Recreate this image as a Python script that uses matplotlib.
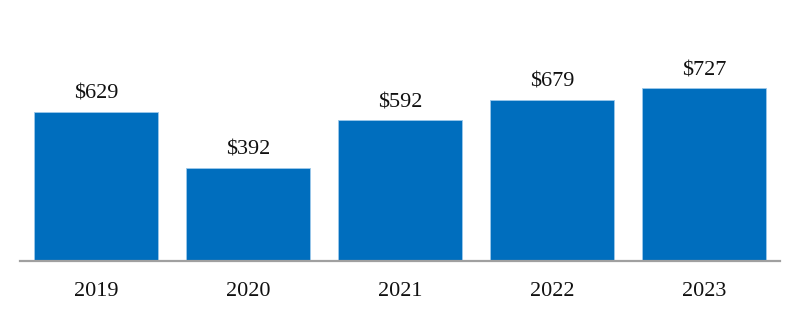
import matplotlib
matplotlib.use("Agg")
import matplotlib.pyplot as plt

years = ["2019", "2020", "2021", "2022", "2023"]
values = [629, 392, 592, 679, 727]
labels = ["$629", "$392", "$592", "$679", "$727"]

plt.rcParams['font.family'] = ['Liberation Serif', 'DejaVu Serif']

fig = plt.figure(figsize=(8, 3.2), dpi=100)
ax = fig.add_axes([0.025, 0.185, 0.95, 0.815])
x = list(range(len(years)))
ax.bar(x, values, width=0.82, color="#006EBE", edgecolor="#9CC8EA", linewidth=0.6)
ax.set_xlim(-0.5, 4.5)
ax.set_ylim(0, 1100)
for xi, v, lab in zip(x, values, labels):
    ax.annotate(lab, (xi, v), xytext=(0, 12.5), textcoords="offset points",
                ha="center", va="center", fontsize=16, color="#111111")
ax.set_xticks(x)
ax.set_xticklabels(years, fontsize=16, color="#111111")
ax.tick_params(axis="x", length=0, pad=15)
ax.set_yticks([])
for s in ["top", "left", "right"]:
    ax.spines[s].set_visible(False)
ax.spines["bottom"].set_color("#A0A0A0")
ax.spines["bottom"].set_linewidth(1.6)
fig.savefig("out.png", dpi=100)
